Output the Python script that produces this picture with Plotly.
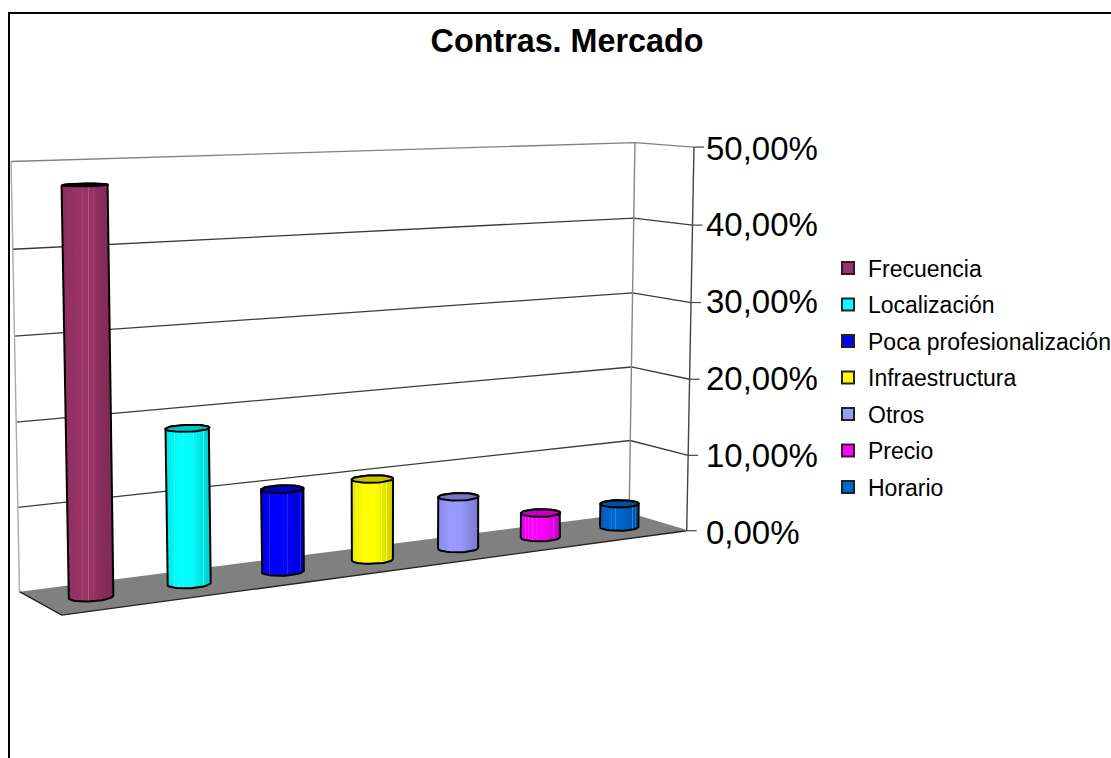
import numpy as np
import plotly.graph_objects as go

categories = ["Frecuencia", "Localización", "Poca profesionalización", "Infraestructura", "Otros", "Precio", "Horario"]
values = [0.475, 0.186, 0.101, 0.101, 0.066, 0.032, 0.031]
colors = ["#993366", "#00FFFF", "#0000FF", "#FFFF00", "#9999FF", "#FF00FF", "#0066CC"]
cap_colors = ["#000000", "#00C4C4", "#0000B8", "#C4C400", "#7676C8", "#C400C0", "#00509E"]
tick_values = [0, 0.1, 0.2, 0.3, 0.4, 0.5]

# Camera calibration: box corners (category pos, value, depth) -> pixel on the page
CAL_W = [(0,0,1),(0,.5,1),(7,.5,1),(7,0,1),(7,0,0),(7,.5,0),(0,0,0),(0,.4,1),(7,.4,1),(7,.4,0),(0,.1,1)]
CAL_P = [(19,592),(11,161),(635,143),(629,513),(687,531),(694,146),(62,615),(13,250),(634,218),(692,226),(18,507)]
A = []
for (X, Y, Z), (u, v) in zip(CAL_W, CAL_P):
    A.append([X, Y*10, Z, 1, 0, 0, 0, 0, -u*X, -u*Y*10, -u*Z, -u])
    A.append([0, 0, 0, 0, X, Y*10, Z, 1, -v*X, -v*Y*10, -v*Z, -v])
P = np.linalg.svd(np.array(A, float))[2][-1].reshape(3, 4)

Y0_PX, Y50_PX = 532, 148
def to_axis(py):
    return (Y0_PX - py) / (Y0_PX - Y50_PX) * 0.5

def project(X, V, Z):
    X, V, Z = np.broadcast_arrays(np.asarray(X, float), np.asarray(V, float), np.asarray(Z, float))
    h = np.stack([X, V*10, Z, np.ones_like(X)])
    q = P @ h
    return q[0]/q[2], to_axis(q[1]/q[2])

def hull(pts):
    pts = sorted(set(map(tuple, pts)))
    def half(seq):
        out = []
        for p in seq:
            while len(out) > 1 and (out[-1][0]-out[-2][0])*(p[1]-out[-2][1]) - (out[-1][1]-out[-2][1])*(p[0]-out[-2][0]) <= 0:
                out.pop()
            out.append(p)
        return out[:-1]
    return half(pts) + half(pts[::-1])

def shade(hexcol, f):
    r, g, b = [int(hexcol[i:i+2], 16) for i in (1, 3, 5)]
    if f <= 1:
        return f"rgb({int(r*f)},{int(g*f)},{int(b*f)})"
    t = f - 1
    return f"rgb({int(r+(255-r)*t)},{int(g+(255-g)*t)},{int(b+(255-b)*t)})"

def gradient(col, stripes):
    base = [(0, .90), (.28, 1.0), (.55, 1.0), (1, .80)]
    def f_at(x):
        return float(np.interp(x, [b[0] for b in base], [b[1] for b in base]))
    stops = {x: f_at(x) for x, _ in base}
    for s in stripes:
        stops[s-.006] = f_at(s)
        stops[s] = 1.22
        stops[s+.006] = f_at(s)
    return [[x, shade(col, stops[x])] for x in sorted(stops)]

STRIPES = [.12, .2, .3, .4, .52, .62, .72, .84, .92]
RX, RZ, ZC = 0.21, 0.18, 0.5
t = np.linspace(0, 2*np.pi, 40, endpoint=False)

fig = go.Figure()

# floor
fx, fy = project([0, 7, 7, 0, 0], [0]*5, [0, 0, 1, 1, 0])
fig.add_trace(go.Scatter(x=fx, y=fy, fill="toself", fillcolor="#808080", mode="none", showlegend=False, hoverinfo="skip"))
ex, ey = project([0, 0, 7], [0, 0, 0], [1, 0, 0])
fig.add_trace(go.Scatter(x=ex, y=ey, mode="lines", line=dict(color="#222222", width=1.4), showlegend=False, hoverinfo="skip"))

# wall gridlines
for v in tick_values:
    gx, gy = project([0, 7, 7], [v]*3, [1, 1, 0])
    if v == 0:
        gx, gy = gx[1:], gy[1:]
    fig.add_trace(go.Scatter(x=gx, y=gy, mode="lines", line=dict(color="#3a3a3a" if 0 < v < 0.5 else "#808080", width=1.3), showlegend=False, hoverinfo="skip"))
# wall verticals
for X, Z, c in [(0, 1, "#aaaaaa"), (7, 1, "#888888"), (7, 0, "#444444")]:
    vx, vy = project([X, X], [0, 0.5], [Z, Z])
    fig.add_trace(go.Scatter(x=vx, y=vy, mode="lines", line=dict(color=c, width=1.4), showlegend=False, hoverinfo="skip"))
# axis tick marks
for v in tick_values:
    tx, ty = project(7, v, 0)
    fig.add_trace(go.Scatter(x=[float(tx), float(tx)+10], y=[float(ty), float(ty)], mode="lines", line=dict(color="#444444", width=1.2), showlegend=False, hoverinfo="skip"))

# cylinders
for i, (name, val, col, cap) in enumerate(zip(categories, values, colors, cap_colors)):
    cx = i + 0.5
    dx = cx + RX*np.cos(t)
    dz = ZC + RZ*np.sin(t)
    bx, by = project(dx, 0, dz)
    tx, ty = project(dx, val, dz)
    poly = hull(list(zip(bx.tolist(), by.tolist())) + list(zip(tx.tolist(), ty.tolist())))
    poly = poly + poly[:1]
    fig.add_trace(go.Scatter(
        x=[p[0] for p in poly], y=[p[1] for p in poly], fill="toself", mode="lines",
        line=dict(color="#000000", width=2),
        fillgradient=dict(type="horizontal", colorscale=gradient(col, STRIPES)),
        name=name, showlegend=False, hovertemplate=f"{name}: {val:.2%}<extra></extra>"))
    fig.add_trace(go.Scatter(
        x=np.append(tx, tx[0]), y=np.append(ty, ty[0]), fill="toself", fillcolor=cap, mode="lines",
        line=dict(color="#000000", width=2), showlegend=False, hoverinfo="skip"))

# legend entries
for name, col in zip(categories, colors):
    fig.add_trace(go.Scatter(x=[None], y=[None], mode="markers", name=name, legendgroup=name,
                             marker=dict(symbol="square", size=14, color=col, line=dict(color="#222222", width=1.5))))

fig.update_layout(
    width=1111, height=758, autosize=False,
    margin=dict(l=0, r=0, t=0, b=0, autoexpand=False),
    paper_bgcolor="white", plot_bgcolor="white",
    separators=",.",
    font=dict(family="Liberation Sans, Arial, sans-serif", color="#000000"),
    title=dict(text="<b>Contras. Mercado</b>", x=567/1111, xanchor="center", y=1-41/758, yanchor="middle",
               font=dict(size=32.3, family="Liberation Sans, Arial, sans-serif", color="#000000")),
    xaxis=dict(range=[0, 1111], visible=False, fixedrange=True),
    yaxis=dict(range=[to_axis(758), to_axis(0)], side="right", anchor="free", position=705/1111,
               tickmode="array", tickvals=tick_values, tickformat=".2%", showgrid=False, zeroline=False,
               showline=False, ticks="", tickfont=dict(size=33), fixedrange=True),
    legend=dict(x=828/1111, xanchor="left", y=1-246.5/758, yanchor="top", traceorder="grouped",
                tracegroupgap=3.6, itemsizing="constant", font=dict(size=23), bgcolor="rgba(0,0,0,0)", borderwidth=0,
                itemclick=False, itemdoubleclick=False),
    shapes=[
        dict(type="line", xref="x", yref="paper", x0=9, x1=9, y0=0, y1=1-13/758, line=dict(color="#000000", width=2)),
        dict(type="line", xref="x", yref="paper", x0=8, x1=1111, y0=1-13/758, y1=1-13/758, line=dict(color="#000000", width=2)),
    ],
)

fig.write_html("out.html", config={"displayModeBar": False},
               post_script="document.body.style.margin='0';document.body.style.overflow='hidden';")
